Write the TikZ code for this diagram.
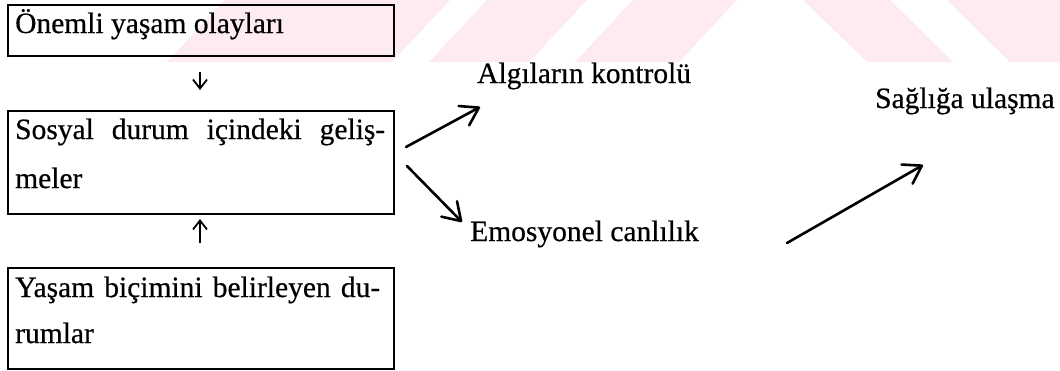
\documentclass[tikz,border=0pt]{standalone}
\usepackage{fontspec}
\setmainfont{Liberation Serif}[FakeBold=0.5]
\newfontfamily\heavyserif{Liberation Serif}[FakeBold=0.5]
\usetikzlibrary{arrows.meta,calc}
\definecolor{wmpink}{RGB}{253,235,239}
\begin{document}
\begin{tikzpicture}[x=1pt,y=-1pt,
  box/.style={draw, line width=2pt, inner sep=0pt, anchor=north west, minimum width=386pt},
  txt/.style={inner sep=0pt, anchor=base west, font=\heavyserif\fontsize{29.5}{35}\selectfont},
  bigarrow/.style={line width=2.6pt, line cap=round, -{Straight Barb[length=17pt,width=22pt,line cap=round,line join=round]}},
  smallarrow/.style={line width=1.8pt, -{Straight Barb[length=9pt,width=14pt]}},
  wm/.style={fill=wmpink, draw=none}]
\useasboundingbox (0,0) rectangle (1060,370);
% watermark
\fill[wm] (225,0) -- (450,0) -- (392,62) -- (167,62) -- cycle;
\fill[wm] (487,0) -- (587,0) -- (529,62) -- (429,62) -- cycle;
\fill[wm] (633,0) -- (737,0) -- (679,62) -- (575,62) -- cycle;
\fill[wm] (803,0) -- (890,0) -- (953,62) -- (867,62) -- cycle;
\fill[wm] (947,0) -- (1060,0) -- (1060,62) -- (1010,62) -- cycle;
% boxes
\node[box, minimum height=51pt] (b1) at (7,4) {};
\node[box, minimum height=103pt] (b2) at (7,110) {};
\node[box, minimum height=101pt] (b3) at (7,267) {};
% box texts
\node[txt] (t1) at (15,33) {Önemli yaşam olayları};
\node[txt] (t2a) at (15,139) {\makebox[370pt][s]{Sosyal durum içindeki geliş-}};
\node[txt] (t2b) at (15,188) {meler};
\node[txt] (t3a) at (15,297) {\makebox[365pt][s]{Yaşam biçimini belirleyen du-}};
\node[txt] (t3b) at (15,343) {rumlar};
% right texts
\node[txt] (algi) at (477,83) {Algıların kontrolü};
\node[txt] (emo) at (470,241) {Emosyonel canlılık};
\node[txt] (sag) at (875,108) {Sağlığa ulaşma};
% small arrows
\draw[smallarrow] ($(b1.south)+(-1,15)$) -- ($(b2.north)+(-1,-20)$);
\draw[smallarrow] ($(b3.north)+(-1,-24)$) -- ($(b2.south)+(-1,4)$);
% big arrows
\draw[bigarrow] ($(b2.north east)+(11,37)$) -- ($(algi.base west)+(3,24)$);
\draw[bigarrow] ($(b2.north east)+(12,56)$) -- ($(emo.base west)+(-8,-19)$);
\draw[bigarrow] ($(sag.base west)+(-88,135)$) -- ($(sag.base west)+(48,57)$);
\end{tikzpicture}
\end{document}
